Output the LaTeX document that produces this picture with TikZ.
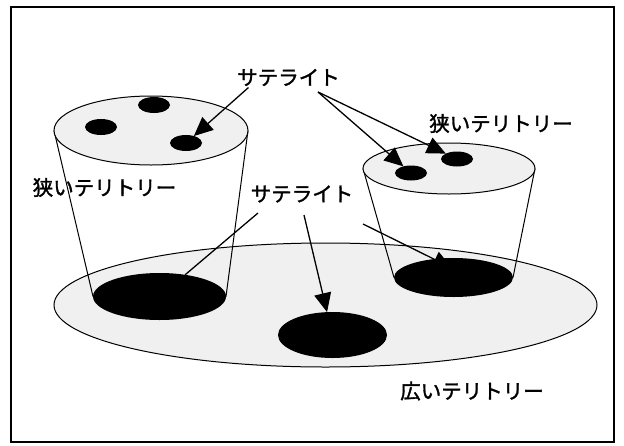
\documentclass[tikz,border=0pt]{standalone}
\usepackage{fontspec}
\newfontfamily\jpfont[FakeBold=1.5]{Noto Sans CJK JP}
\usepackage{tikz}
\usetikzlibrary{shapes.geometric, calc, arrows.meta}

\begin{document}
\begin{tikzpicture}[x=1pt,y=-1pt,
  oval/.style={ellipse,draw,line width=1pt,inner sep=0pt,outer sep=0pt},
  dot/.style={ellipse,fill=black,inner sep=0pt,outer sep=0pt,minimum width=32pt,minimum height=16pt},
  lab/.style={inner sep=0pt,font=\jpfont\fontsize{20.5pt}{24pt}\selectfont},
  arr/.style={-{Triangle[length=19pt,width=17pt]},line width=1.3pt}]
  \useasboundingbox (0,0) rectangle (624,445);
  \draw[line width=1.3pt] (11,7) rectangle (614,442); %枠
  \node[oval,fill=black!6,minimum width=543pt,minimum height=124pt] (big) at (325.5,305) {}; %広い楕円
  \node[dot,minimum width=133pt,minimum height=47pt] (lb) at (159.5,296.5) {};
  \node[dot,minimum width=109pt,minimum height=46pt] (mb) at (332.5,335) {};
  \node[dot,minimum width=119pt,minimum height=39pt] (rb) at (453.5,277.5) {};
  \node[oval,draw=none,minimum width=194pt,minimum height=69pt] (lt) at (151,130.5) {}; %左のカップ
  \draw[line width=1pt] (lt.west)--(lb.west) (lt.east)--(lb.east);
  \node[oval,fill=black!6,minimum width=194pt,minimum height=69pt] at (lt) {};
  \node[dot] (ls1) at (154,105) {};
  \node[dot] (ls2) at (101,127) {};
  \node[dot] (ls3) at (186,143) {};
  \node[oval,draw=none,minimum width=172pt,minimum height=51pt] (rt) at (449,168.5) {}; %右のカップ
  \draw[line width=1pt] (rt.west)--(rb.west) (rt.east)--(rb.east);
  \node[oval,fill=black!6,minimum width=172pt,minimum height=51pt] at (rt) {};
  \node[dot,minimum height=15pt] (rs1) at (411,173) {};
  \node[dot,minimum height=15pt] (rs2) at (457,159) {};
  \node[lab] (sat1) at (288.5,77.5) {サテライト};
  \node[lab] (sat2) at (302,194) {サテライト};
  \node[lab] (nl) at (104.5,187.5) {狭いテリトリー};
  \node[lab] (nr) at (501,123.5) {狭いテリトリー};
  \node[lab] (wide) at (472,391) {広いテリトリー};
  \draw[arr] ($(sat1)+(-40,10)$)--(ls3);
  \draw[arr] ($(sat1)+(29.5,14.5)$)--(rs1);
  \draw[arr] ($(sat1)+(29.5,14.5)$)--(rs2);
  \draw[line width=1.3pt] ($(sat2)+(-44,19)$)--(lb);
  \draw[arr] ($(sat2)+(2,21)$)--(mb);
  \draw[arr] ($(sat2)+(61,30)$)--($(rb)+(-1.5,-9.5)$);
\end{tikzpicture}
\end{document}
